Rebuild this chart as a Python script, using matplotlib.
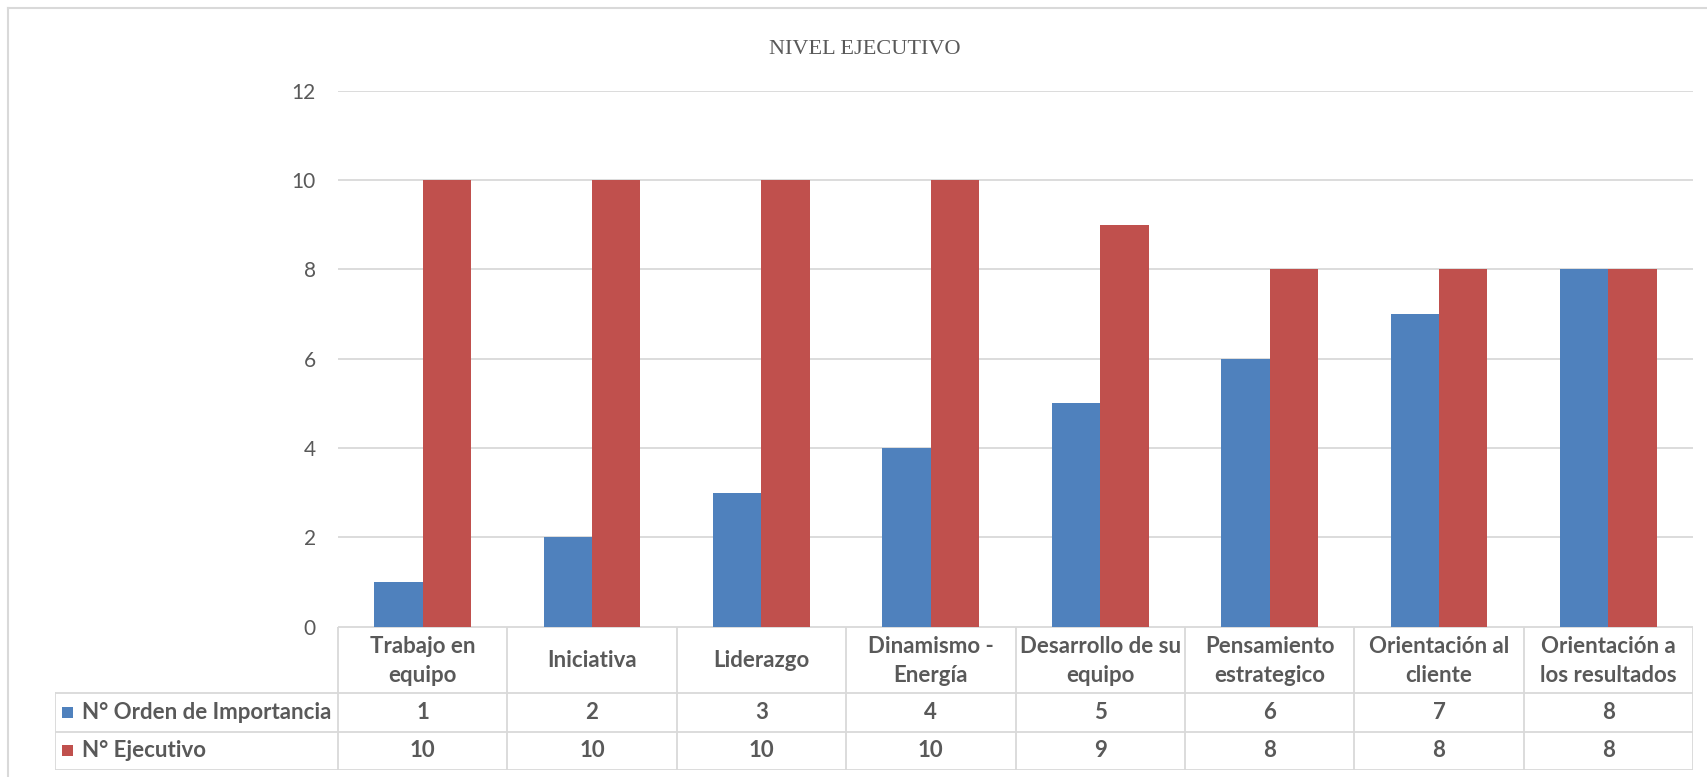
import matplotlib
matplotlib.use("Agg")
import matplotlib.pyplot as plt
from matplotlib.lines import Line2D
from matplotlib.patches import Rectangle

# --- data ---------------------------------------------------------------
categories = [
    "Trabajo en\nequipo",
    "Iniciativa",
    "Liderazgo",
    "Dinamismo -\nEnergía",
    "Desarrollo de su\nequipo",
    "Pensamiento\nestrategico",
    "Orientación al\ncliente",
    "Orientación a\nlos resultados",
]
series_names = ["N° Orden de Importancia", "N° Ejecutivo"]
orden_importancia = [1, 2, 3, 4, 5, 6, 7, 8]
n_ejecutivo = [10, 10, 10, 10, 9, 8, 8, 8]
y_ticks = [0, 2, 4, 6, 8, 10, 12]
title = "NIVEL EJECUTIVO"

# --- style --------------------------------------------------------------
BLUE = "#4F81BD"
RED = "#C0504D"
GRID = "#D9D9D9"
TEXT = "#595959"
FONT = "Lato"
TBL_FS = 16

W, H, DPI = 1707, 777, 100
fig = plt.figure(figsize=(W / DPI, H / DPI), dpi=DPI)
fig.patch.set_facecolor("white")

# plot area in pixels
px_left, px_right = 338, 1693
px_top, px_zero = 90.7, 626.7
tbl_left, tbl_bottom = 55, 770
row_edges_px = [px_zero, 692.7, 731.7, tbl_bottom]

def fx(px):
    return px / W

def fy(py):
    return 1 - py / H

ax = fig.add_axes([fx(px_left), fy(px_zero), fx(px_right - px_left),
                   (px_zero - px_top) / H])
n = len(categories)
xs = list(range(n))
bw = 1 / 3.5
ax.bar([x - bw / 2 for x in xs], orden_importancia, width=bw, color=BLUE,
       zorder=3, linewidth=0)
ax.bar([x + bw / 2 for x in xs], n_ejecutivo, width=bw, color=RED,
       zorder=3, linewidth=0)
ax.set_xlim(-0.5, n - 0.5)
ax.set_ylim(0, 12)
ax.set_yticks(y_ticks)
ax.set_yticklabels([str(v) for v in y_ticks], fontsize=15, color=TEXT,
                   family=FONT)
ax.set_xticks([])
ax.tick_params(axis="y", length=0, pad=16)
ax.yaxis.grid(True, color=GRID, linewidth=1.3, zorder=0)
for s in ax.spines.values():
    s.set_visible(False)
ax.set_facecolor("none")

# title
fig.text(fx(865), fy(50), title, ha="center", va="center",
         fontsize=16, color=TEXT, family="Liberation Serif")

# --- data table under the plot -----------------------------------------
cat_px = (px_right - px_left) / n
x0 = -0.5 - (px_left - tbl_left) / cat_px
tax = fig.add_axes([fx(tbl_left), fy(tbl_bottom), fx(px_right - tbl_left),
                    (tbl_bottom - px_zero) / H])
tax.set_xlim(x0, n - 0.5)
rows = [r - px_zero for r in row_edges_px]
tax.set_ylim(rows[-1], 0)
tax.axis("off")

lk = dict(color=GRID, linewidth=1.3, solid_capstyle="projecting")
# horizontal lines
tax.add_line(Line2D([-0.5, n - 0.5], [rows[0], rows[0]], **lk))
for r in rows[1:]:
    tax.add_line(Line2D([x0, n - 0.5], [r, r], **lk))
# vertical lines
for i in range(n + 1):
    tax.add_line(Line2D([i - 0.5, i - 0.5], [rows[0], rows[-1]], **lk))
tax.add_line(Line2D([x0, x0], [rows[1], rows[-1]], **lk))

tk = dict(ha="center", va="center", color=TEXT, family=FONT,
          fontweight="bold", fontsize=TBL_FS)
for i, c in enumerate(categories):
    tax.text(i, (rows[0] + rows[1]) / 2 + 1, c, linespacing=1.45, **tk)
    tax.text(i, (rows[1] + rows[2]) / 2, str(orden_importancia[i]), **tk)
    tax.text(i, (rows[2] + rows[3]) / 2, str(n_ejecutivo[i]), **tk)

# legend keys and series names in the first column
key_w = 11 / cat_px
for name, col, (ra, rb) in zip(series_names, [BLUE, RED],
                               [(rows[1], rows[2]), (rows[2], rows[3])]):
    ym = (ra + rb) / 2
    kx = x0 + (62 - tbl_left) / cat_px
    tax.add_patch(Rectangle((kx, ym - 5.5), key_w, 11, color=col, lw=0))
    tax.text(x0 + (82 - tbl_left) / cat_px, ym, name, ha="left", va="center",
             color=TEXT, family=FONT, fontweight="bold", fontsize=TBL_FS)

# chart area border (left and top edges)
fig.add_artist(Line2D([fx(8), fx(8)], [fy(8), 0], color=GRID, lw=1.5))
fig.add_artist(Line2D([fx(8), 1], [fy(8), fy(8)], color=GRID, lw=1.5))

fig.savefig("out.png", dpi=DPI, facecolor="white")
